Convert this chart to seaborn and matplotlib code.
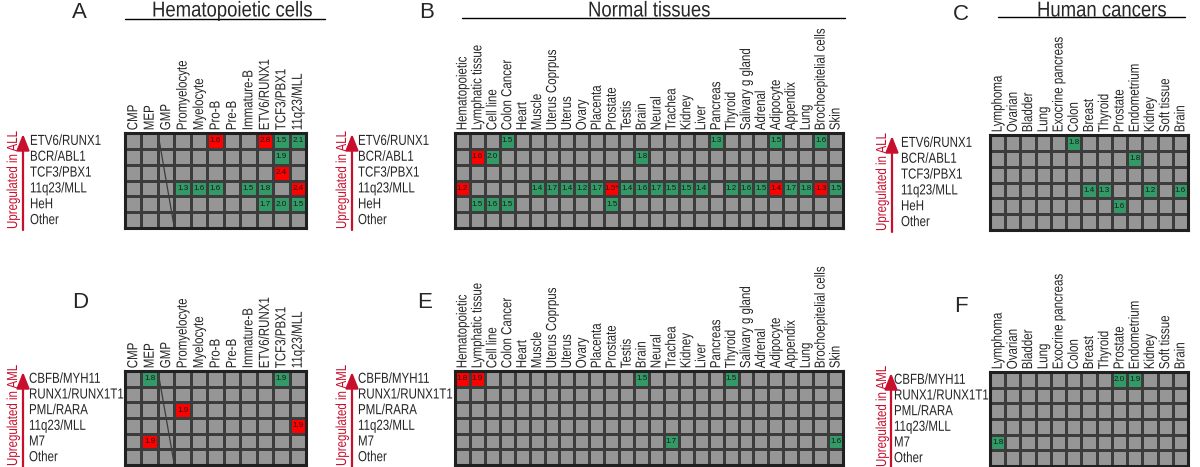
import numpy as np
import pandas as pd
import matplotlib
matplotlib.use("Agg")
import matplotlib.pyplot as plt
from matplotlib.colors import ListedColormap
from matplotlib.lines import Line2D
from matplotlib.transforms import Affine2D
from matplotlib.patheffects import AbstractPathEffect
import seaborn as sns

# Column labels
hemato_cells = ["CMP", "MEP", "GMP", "Promyelocyte", "Myelocyte", "Pro-B", "Pre-B",
                "Immature-B", "ETV6/RUNX1", "TCF3/PBX1", "11q23/MLL"]
normal_tissues = ["Hematopoietic", "Lymphatic tissue", "Cell line", "Colon Cancer", "Heart",
                  "Muscle", "Uterus Coprpus", "Uterus", "Ovary", "Placenta", "Prostate",
                  "Testis", "Brain", "Neural", "Trachea", "Kidney", "Liver", "Pancreas",
                  "Thyroid", "Salivary g gland", "Adrenal", "Adipocyte", "Appendix", "Lung",
                  "Brochoepitelial cells", "Skin"]
human_cancers = ["Lymphoma", "Ovarian", "Bladder", "Lung", "Exocrine pancreas", "Colon",
                 "Breast", "Thyroid", "Prostate", "Endometrium", "Kidney", "Soft tissue", "Brain"]

# Row labels
all_subtypes = ["ETV6/RUNX1", "BCR/ABL1", "TCF3/PBX1", "11q23/MLL", "HeH", "Other"]
aml_subtypes = ["CBFB/MYH11", "RUNX1/RUNX1T1", "PML/RARA", "11q23/MLL", "M7", "Other"]

# Significant cells: (subtype, column, label, colour)  g = green, r = red
a_hits = [("ETV6/RUNX1", "Pro-B", "1.6", "r"), ("ETV6/RUNX1", "ETV6/RUNX1", "2.8", "r"),
          ("ETV6/RUNX1", "TCF3/PBX1", "1.5", "g"), ("ETV6/RUNX1", "11q23/MLL", "2.1", "g"),
          ("BCR/ABL1", "TCF3/PBX1", "1.9", "g"),
          ("TCF3/PBX1", "TCF3/PBX1", "2.4", "r"),
          ("11q23/MLL", "Promyelocyte", "1.3", "g"), ("11q23/MLL", "Myelocyte", "1.6", "g"),
          ("11q23/MLL", "Pro-B", "1.6", "g"), ("11q23/MLL", "Immature-B", "1.5", "g"),
          ("11q23/MLL", "ETV6/RUNX1", "1.8", "g"), ("11q23/MLL", "11q23/MLL", "2.4", "r"),
          ("HeH", "ETV6/RUNX1", "1.7", "g"), ("HeH", "TCF3/PBX1", "2.0", "g"),
          ("HeH", "11q23/MLL", "1.5", "g")]

b_hits = [("ETV6/RUNX1", "Colon Cancer", "1.5", "g"), ("ETV6/RUNX1", "Pancreas", "1.3", "g"),
          ("ETV6/RUNX1", "Adipocyte", "1.5", "g"), ("ETV6/RUNX1", "Brochoepitelial cells", "1.6", "g"),
          ("BCR/ABL1", "Lymphatic tissue", "1.6", "r"), ("BCR/ABL1", "Cell line", "2.0", "g"),
          ("BCR/ABL1", "Brain", "1.8", "g"),
          ("11q23/MLL", "Hematopoietic", "1.2", "r"), ("11q23/MLL", "Muscle", "1.4", "g"),
          ("11q23/MLL", "Uterus Coprpus", "1.7", "g"), ("11q23/MLL", "Uterus", "1.4", "g"),
          ("11q23/MLL", "Ovary", "1.2", "g"), ("11q23/MLL", "Placenta", "1.7", "g"),
          ("11q23/MLL", "Prostate", "1.5*", "r"), ("11q23/MLL", "Testis", "1.4", "g"),
          ("11q23/MLL", "Brain", "1.6", "g"), ("11q23/MLL", "Neural", "1.7", "g"),
          ("11q23/MLL", "Trachea", "1.5", "g"), ("11q23/MLL", "Kidney", "1.5", "g"),
          ("11q23/MLL", "Liver", "1.4", "g"), ("11q23/MLL", "Thyroid", "1.2", "g"),
          ("11q23/MLL", "Salivary g gland", "1.6", "g"), ("11q23/MLL", "Adrenal", "1.5", "g"),
          ("11q23/MLL", "Adipocyte", "1.4", "r"), ("11q23/MLL", "Appendix", "1.7", "g"),
          ("11q23/MLL", "Lung", "1.8", "g"), ("11q23/MLL", "Brochoepitelial cells", "1.3", "r"),
          ("11q23/MLL", "Skin", "1.5", "g"),
          ("HeH", "Lymphatic tissue", "1.5", "g"), ("HeH", "Cell line", "1.6", "g"),
          ("HeH", "Colon Cancer", "1.5", "g"), ("HeH", "Prostate", "1.5", "g")]

c_hits = [("ETV6/RUNX1", "Colon", "1.8", "g"), ("BCR/ABL1", "Endometrium", "1.8", "g"),
          ("11q23/MLL", "Breast", "1.4", "g"), ("11q23/MLL", "Thyroid", "1.3", "g"),
          ("11q23/MLL", "Kidney", "1.2", "g"), ("11q23/MLL", "Brain", "1.6", "g"),
          ("HeH", "Prostate", "1.6", "g")]

d_hits = [("CBFB/MYH11", "MEP", "1.8", "g"), ("CBFB/MYH11", "TCF3/PBX1", "1.9", "g"),
          ("PML/RARA", "Promyelocyte", "1.9", "r"), ("11q23/MLL", "11q23/MLL", "1.9", "r"),
          ("M7", "MEP", "1.9", "r")]

e_hits = [("CBFB/MYH11", "Hematopoietic", "1.8", "r"), ("CBFB/MYH11", "Lymphatic tissue", "1.9", "r"),
          ("CBFB/MYH11", "Brain", "1.5", "g"), ("CBFB/MYH11", "Thyroid", "1.5", "g"),
          ("M7", "Trachea", "1.7", "g"), ("M7", "Skin", "1.6", "g")]

f_hits = [("CBFB/MYH11", "Prostate", "2.0", "g"), ("CBFB/MYH11", "Endometrium", "1.9", "g"),
          ("M7", "Lymphoma", "1.8", "g")]

W, H = 1200, 467
GREY, GREEN, RED = "#969696", "#339966", "#ff0000"
ARROW_RED = "#c8102e"

sns.set_style("white")
plt.rcParams["font.family"] = ["Liberation Sans", "DejaVu Sans"]


class Narrow(AbstractPathEffect):
    """Squeeze glyphs along the writing direction (no condensed font installed)."""

    def __init__(self, sx=0.79):
        super().__init__()
        self.sx = sx

    def draw_path(self, renderer, gc, tpath, affine, rgbFace=None):
        renderer.draw_path(gc, tpath, Affine2D().scale(self.sx, 1) + affine, rgbFace)


NARROW = [Narrow()]

fig = plt.figure(figsize=(W / 100, H / 100), dpi=100)


def fig_rect(x0, y0, x1, y1):
    # pixel box (top-down) -> figure fraction
    return [x0 / W, 1 - y1 / H, (x1 - x0) / W, (y1 - y0) / H]


def build(rows, cols, hits):
    kind = pd.DataFrame(0, index=rows, columns=cols)
    text = pd.DataFrame("", index=rows, columns=cols)
    for r, c, v, k in hits:
        kind.loc[r, c] = 1 if k == "g" else 2
        text.loc[r, c] = v
    return kind, text


panels = [
    # letter, rows, cols, hits, grid box, label pad(px), arrow x, text x, letter pos, arm
    ("A", all_subtypes, hemato_cells, a_hits, (125, 133, 306, 228), 95, 23, 13, (79, 13), "ALL"),
    ("B", all_subtypes, normal_tissues, b_hits, (455, 133, 843, 228), 97, 352, 342, (427, 13), "ALL"),
    ("C", all_subtypes, human_cancers, c_hits, (990, 135, 1188, 230), 89, 892, 882, (961, 14), "ALL"),
    ("D", aml_subtypes, hemato_cells, d_hits, (125, 371, 306, 465), 96, 23, 13, (80, 302), "AML"),
    ("E", aml_subtypes, normal_tissues, e_hits, (455, 371, 843, 465), 97, 352, 342, (425, 303), "AML"),
    ("F", aml_subtypes, human_cancers, f_hits, (990, 372, 1188, 466), 96, 891, 882, (961, 306), "AML"),
]

cmap = ListedColormap([GREY, GREEN, RED])

for letter, rows, cols, hits, box, pad, ax_x, tx_x, lpos, arm in panels:
    kind, text = build(rows, cols, hits)
    ax = fig.add_axes(fig_rect(*box))
    sns.heatmap(kind, cmap=cmap, vmin=-0.5, vmax=2.5, cbar=False, ax=ax,
                linewidths=0.9, linecolor="#3c3c3c",
                annot=text.values, fmt="",
                annot_kws={"size": 5.8, "color": "#1a1a1a"},
                xticklabels=cols, yticklabels=rows)
    ax.xaxis.tick_top()
    ax.tick_params(axis="x", length=0, pad=2, labelsize=10.5)
    ax.tick_params(axis="y", length=0, pad=pad * 0.72, labelsize=10.5)
    for t in ax.get_xticklabels():
        t.set_rotation(90)
        t.set_va("bottom")
        t.set_ha("center")
        t.set_path_effects(NARROW)
    for t in ax.get_yticklabels():
        t.set_rotation(0)
        t.set_ha("left")
        t.set_path_effects(NARROW)
    for s in ax.spines.values():
        s.set_visible(True)
        s.set_linewidth(2.2)
        s.set_color("#202020")

    # diagonal stroke through the GMP column
    if "GMP" in cols:
        gi = cols.index("GMP")
        ax.plot([gi, gi + 1], [0, len(rows)], color="#3c3c3c", lw=0.9)

    y0, y1 = box[1], box[3]
    ax.annotate("", xy=(ax_x, H - y0 - 1), xytext=(ax_x, H - y1 - 2),
                xycoords="figure pixels",
                arrowprops=dict(arrowstyle="-|>,head_length=0.7,head_width=0.28",
                                color=ARROW_RED, lw=1.6, shrinkA=0, shrinkB=0,
                                mutation_scale=14))
    fig.text(tx_x / W, 1 - (y1 + 1) / H, "Upregulated in " + arm, rotation=90,
             ha="center", va="bottom", color=ARROW_RED, fontsize=10.5,
             path_effects=NARROW)
    fig.text(lpos[0] / W, 1 - lpos[1] / H, letter, ha="center", va="center", fontsize=16)

# section titles with underlines (text start x, underline x0, x1, y)
titles = [("Hematopoietic cells", 152, 125, 325, 19),
          ("Normal tissues", 588, 462, 845, 18),
          ("Human cancers", 1037, 998, 1185, 17)]
for label, sx, x0, x1, yl in titles:
    fig.text(sx / W, 1 - 16.5 / H, label, ha="left", va="baseline", fontsize=15.5,
             path_effects=[Narrow(0.86)])
    fig.add_artist(Line2D([x0 / W, x1 / W], [1 - yl / H, 1 - yl / H],
                          transform=fig.transFigure, color="black", lw=1))

fig.savefig("out.png", dpi=100)
